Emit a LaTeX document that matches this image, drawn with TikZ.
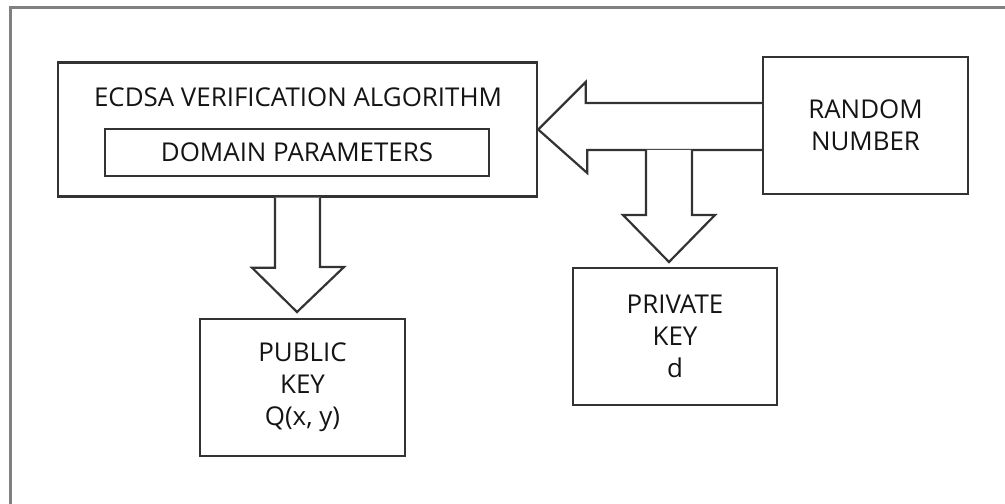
\documentclass[tikz,border=0pt]{standalone}
\usepackage{fontspec}
\setmainfont{Open Sans}
\usetikzlibrary{positioning}

\begin{document}
\begin{tikzpicture}[x=1bp,y=-1bp,
  box/.style={draw=black!80,line width=2.4bp,rectangle,inner sep=0pt},
  lbl/.style={text=black!92,font=\fontsize{26}{32}\selectfont,align=center},
  blockarrow/.style={draw=black!80,line width=2.2bp,fill=white,line join=miter}]

 \useasboundingbox (0,0) rectangle (1005,504);

 % Open frame (top and left edge only)
 \draw [black!50,line width=3bp] (1005,7.5) -- (10.5,7.5) -- (10.5,504);

 % Boxes
 \node[box,minimum width=479bp,minimum height=134bp] (alg) at (297.5,129.5) {};
 \node[lbl] (algtitle) at (298,97) {ECDSA VERIFICATION ALGORITHM};
 \node[box,lbl,minimum width=384bp,minimum height=47bp] (dom) at (297,152.5) {DOMAIN PARAMETERS};
 \node[box,lbl,minimum width=205bp,minimum height=137bp] (rand) at (865.5,125.5) {RANDOM\\NUMBER};
 \node[box,lbl,minimum width=204bp,minimum height=137bp] (priv) at (675,336.5) {PRIVATE\\KEY\\d};
 \node[box,lbl,minimum width=205bp,minimum height=137bp] (pub) at (302.5,387.5) {PUBLIC\\KEY\\Q(x, y)};

 % Arrow tips
 \coordinate (privtip) at (669,262);
 \coordinate (pubtip) at (297,312);
 \coordinate (branch) at (646,150);

 % Random number -> algorithm
 \draw [blockarrow] ([yshift=22.5bp]rand.west) -- ++(-176,0) -- ++(0,-21)
   -- (alg.east) -- ++(49,43.5) -- ++(0,-23) -- ([yshift=-24.5bp]rand.west);

 % Branch -> private key
 \draw [blockarrow] (branch) -- ++(0,65) -- ++(-23,0) -- (privtip)
   -- ++(46,-47) -- ++(-23,0) -- ++(0,-65);

 % Algorithm -> public key
 \draw [blockarrow] ([xshift=-22.5bp]alg.south) -- ++(0,70) -- ++(-23,0) -- (pubtip)
   -- ++(47,-45) -- ++(-24,0) -- ([xshift=22.5bp]alg.south);

\end{tikzpicture}
\end{document}
